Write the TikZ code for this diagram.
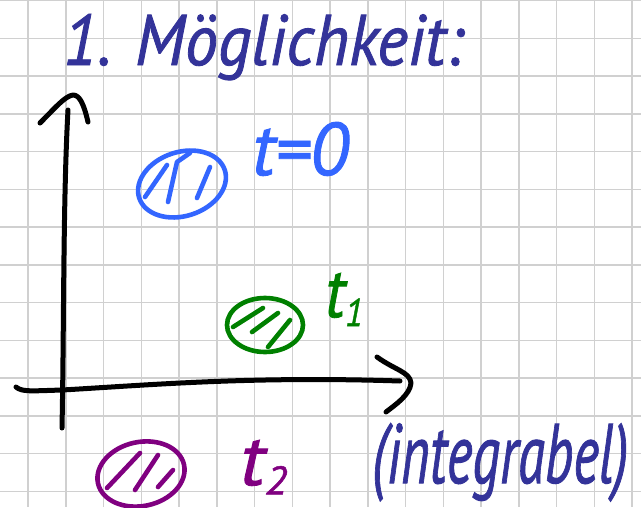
\documentclass[tikz,border=0pt]{standalone}
\usepackage{fontspec}
\setmainfont{PT Sans}
\newfontfamily\handfont{PT Sans}[ItalicFeatures={FakeBold=1.2}]
\definecolor{gridgray}{HTML}{D0D0D0}
\definecolor{titleblue}{HTML}{333399}
\definecolor{lightblue}{HTML}{3366FF}
\definecolor{pengreen}{HTML}{008000}
\definecolor{penpurple}{HTML}{800080}
\newcommand{\subdigit}[1]{\raisebox{-1.3pt}{\fontsize{5.5}{5.5}\selectfont #1}}
\begin{document}
\begin{tikzpicture}[x=1pt,y=-1pt,
  gridline/.style={draw=gridgray,line width=1.5pt},
  axisline/.style={draw=black,line width=5pt,line cap=round,line join=round},
  pen/.style={line width=4.6pt,line cap=round,line join=round},
  handtext/.style={anchor=base west,inner sep=0pt,font=\handfont\itshape}]
\useasboundingbox (0,0) rectangle (641,507);
\fill[white] (0,0) rectangle (641,507);
% grid
\foreach \k in {0,...,16} \draw[gridline] ({28+37.75*\k},0) -- ({28+37.75*\k},507);
\foreach \j in {0,...,13} \draw[gridline] (0,{0.5+37.75*\j}) -- (641,{0.5+37.75*\j});
% axes
\draw[axisline] (62,428) .. controls (64,330) and (63,200) .. (68,110);
\draw[axisline] (40,123) .. controls (55,108) and (65,96) .. (73,95) .. controls (80,95) and (84,105) .. (88,122);
\draw[axisline] (16,387) .. controls (22,392) and (30,391) .. (62,390) .. controls (150,385) and (250,376) .. (400,381);
\draw[axisline] (377,357) .. controls (395,370) and (410,372) .. (411,383) .. controls (410,395) and (395,405) .. (386,412);
% blue blob
\draw[pen,lightblue,rotate around={18:(182,184)}] (182,184) ellipse [x radius=45, y radius=32];
\draw[pen,lightblue] (145,197) -- (167,165);
\draw[pen,lightblue] (168,202) -- (177,162) -- (190,153);
\draw[pen,lightblue] (197,198) -- (210,167);
% green blob
\draw[pen,pengreen] (265,325) ellipse [x radius=38, y radius=27];
\draw[pen,pengreen] (233,327) -- (263,308);
\draw[pen,pengreen] (252,332) -- (278,313);
\draw[pen,pengreen] (268,347) -- (290,320);
% purple blob
\draw[pen,penpurple,rotate around={12:(141,474)}] (141,474) ellipse [x radius=44, y radius=32];
\draw[pen,penpurple] (107,488) -- (140,453);
\draw[pen,penpurple] (135,490) -- (158,455);
\draw[pen,penpurple] (158,487) -- (173,470);
% texts
\node[handtext,text=titleblue] (title) at (63,65) {\resizebox{400pt}{51pt}{1. Möglichkeit:}};
\node[handtext,text=lightblue] (t0) at (252,175) {\resizebox{96pt}{53pt}{t=0}};
\node[handtext,text=pengreen] (t1) at (325,317) {\resizebox{38pt}{44pt}{t\subdigit{1}}};
\node[handtext,text=penpurple] (t2) at (240,485) {\resizebox{47pt}{45pt}{t\subdigit{2}}};
\node[handtext,text=titleblue] (integ) at (372,483) {\resizebox{256pt}{60pt}{(integrabel)}};
\end{tikzpicture}
\end{document}
